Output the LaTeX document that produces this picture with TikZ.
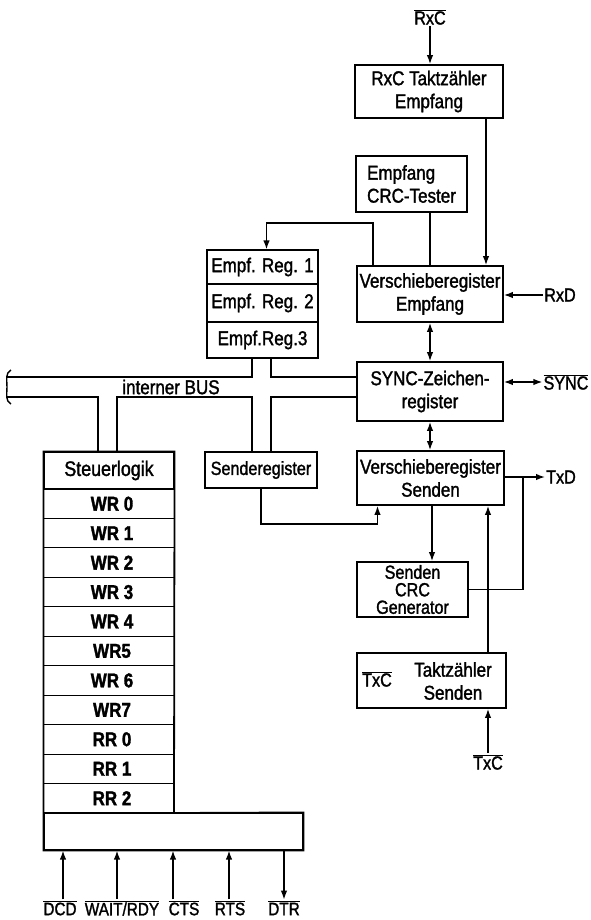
\documentclass[tikz,border=0pt]{standalone}
\usepackage{fontspec}
\setmainfont[FakeStretch=0.85,FakeBold=1.5]{Liberation Sans}
\usetikzlibrary{arrows.meta}
\begin{document}
\begin{tikzpicture}[x=1pt,y=-1pt,
  box/.style={draw,line width=1.8pt,inner sep=1pt,align=center,font=\fontsize{20}{23}\selectfont},
  ereg/.style={draw,line width=1.1pt,minimum width=111pt,inner sep=0pt,font=\fontsize{20}{21}\selectfont},
  wreg/.style={inner sep=0pt,font=\bfseries\fontsize{20}{21}\selectfont},
  conn/.style={line width=1.4pt},
  arr/.style={conn,-{Latex[length=9pt,width=6.5pt]}},
  barr/.style={conn,{Latex[length=9pt,width=6.5pt]}-{Latex[length=9pt,width=6.5pt]}},
  sig/.style={font=\fontsize{19}{20}\selectfont,inner sep=1pt},
  bsig/.style={font=\fontsize{18}{19}\selectfont,inner sep=1pt},
]
\useasboundingbox (0,0) rectangle (590,920);

% right column boxes
\node[box,minimum width=148pt,minimum height=53pt] (rxcb) at (429,91.5) {RxC Taktzähler\\Empfang};
\node[box,minimum width=111pt,minimum height=56pt,align=left] (crct) at (411.5,184) {Empfang\\CRC-Tester};
\node[box,minimum width=146pt,minimum height=56pt] (ve) at (430,294) {Verschieberegister\\Empfang};
\node[box,minimum width=146pt,minimum height=59pt] (sync) at (430,391.5) {SYNC-Zeichen-\\register};
\node[box,minimum width=147pt,minimum height=54pt] (vs) at (430.5,478) {Verschieberegister\\Senden};
\node[box,minimum width=111pt,minimum height=55pt,font=\fontsize{19}{17.5}\selectfont] (crcg) at (412.5,589.5) {Senden\\CRC\\Generator};
\node[box,minimum width=149pt,minimum height=55pt] (txs) at (431.5,680.5) {};
\node[font=\fontsize{20}{23}\selectfont,align=center,inner sep=0pt] (txst) at (453,681) {Taktzähler\\Senden};
\node[sig] (txcin) at (377,679) {$\overline{\mbox{TxC}}$};

% Empfangsregister
\node[ereg,minimum height=34pt] (er1) at (262.5,267) {Empf. Reg. 1};
\node[ereg,minimum height=38pt] (er2) at (262.5,303) {Empf. Reg. 2};
\node[ereg,minimum height=36pt] (er3) at (262.5,340) {Empf.Reg.3};
\draw[line width=1.8pt] (er1.north west) rectangle (er3.south east);

% Senderegister
\node[box,minimum width=112pt,minimum height=36pt,font=\fontsize{19}{20}\selectfont] (sr) at (261,470) {Senderegister};

% left column
\node[draw,line width=1.1pt,minimum width=130pt,minimum height=37pt,inner sep=0pt,font=\fontsize{21}{22}\selectfont] (st) at (109,470.5) {Steuerlogik};
\foreach \t [count=\i from 0] in {WR 0,WR 1,WR 2,WR 3,WR 4,WR5,WR 6,WR7,RR 0,RR 1,RR 2}
  \node[wreg] (r\i) at (112,{489+29.45*(\i+0.5)}) {\t};
\node[draw,line width=1.1pt,minimum width=259pt,minimum height=37pt,inner sep=0pt] (bot) at (173.5,831.5) {};
\foreach \i in {0,...,9} \draw[line width=1.1pt] (44,{489+29.45*(\i+1)}) -- (174,{489+29.45*(\i+1)});
\draw[line width=1.8pt] (st.north west) -- (st.north east) -- (174,813) -- (bot.north east)
  -- (bot.south east) -- (bot.south west) -- cycle;

% internal bus
\draw[conn] (11,370) .. controls (5,373) and (7,380) .. (7,387) .. controls (7,394) and (5,401) .. (11,404);
\draw[conn] (7,377) -- (252,377) -- (252,358);
\draw[conn] (271,358) -- (271,377) -- (357,377);
\draw[conn] (7,397) -- (98,397) -- (98,452);
\draw[conn] (117,452) -- (117,397) -- (252,397) -- (252,452);
\draw[conn] (271,452) -- (271,397) -- (357,397);
\node[font=\fontsize{20}{21}\selectfont,inner sep=0pt] (bus) at (171,387) {interner BUS};

% connectors right
\node[sig] (rxcin) at (430,17) {$\overline{\mbox{RxC}}$};
\draw[arr] (rxcin.south) -- (rxcin.south |- rxcb.north);
\draw[arr] ([xshift=57pt]rxcb.south) -- ([xshift=57pt]rxcb.south |- ve.north);
\draw[conn] ([xshift=18.5pt]crct.south) -- ([xshift=18.5pt]crct.south |- ve.north);
\draw[arr] ([xshift=-57pt]ve.north) -- ++(0,-42) -| ([xshift=4pt]er1.north);
\node[sig] (rxd) at (560,295) {RxD};
\draw[arr] (rxd.west) -- (rxd.west -| ve.east);
\draw[barr] (ve.south) -- (sync.north);
\node[sig] (synco) at (566,382) {$\overline{\mbox{SYNC}}$};
\draw[barr] (synco.west) -- (synco.west -| sync.east);
\draw[barr] (sync.south) -- (sync.south |- vs.north);
\node[sig] (txd) at (561,477) {TxD};
\draw[arr] (vs.east |- txd.west) -- (txd.west);
\coordinate (j) at (523,477);
\draw[conn] (j) |- (crcg.east);
\draw[arr] ([xshift=1.5pt]vs.south) -- ([xshift=1.5pt]vs.south |- crcg.north);
\draw[arr] ([xshift=56.5pt]txs.north) -- ([xshift=56.5pt]txs.north |- vs.south);
\node[sig] (txcl) at (488,762) {$\overline{\mbox{TxC}}$};
\draw[arr] (txcl.north) -- (txcl.north |- txs.south);
\draw[arr] (sr.south) -- ++(0,35) -| ([xshift=-53pt]vs.south);

% bottom signals
\node[bsig] (dcd) at (60,908) {$\overline{\mbox{DCD}}$};
\node[bsig] (wait) at (122,908) {$\overline{\mbox{WAIT/RDY}}$};
\node[bsig] (cts) at (184,908) {$\overline{\mbox{CTS}}$};
\node[bsig] (rts) at (230,908) {$\overline{\mbox{RTS}}$};
\node[bsig] (dtr) at (284,908) {$\overline{\mbox{DTR}}$};
\draw[arr] (dcd.north -| 63,0) -- (bot.south -| 63,0);
\draw[arr] (wait.north -| 117,0) -- (bot.south -| 117,0);
\draw[arr] (cts.north -| 173,0) -- (bot.south -| 173,0);
\draw[arr] (rts.north -| 229,0) -- (bot.south -| 229,0);
\draw[arr] (bot.south -| dtr.north) -- (dtr.north);
\end{tikzpicture}
\end{document}
